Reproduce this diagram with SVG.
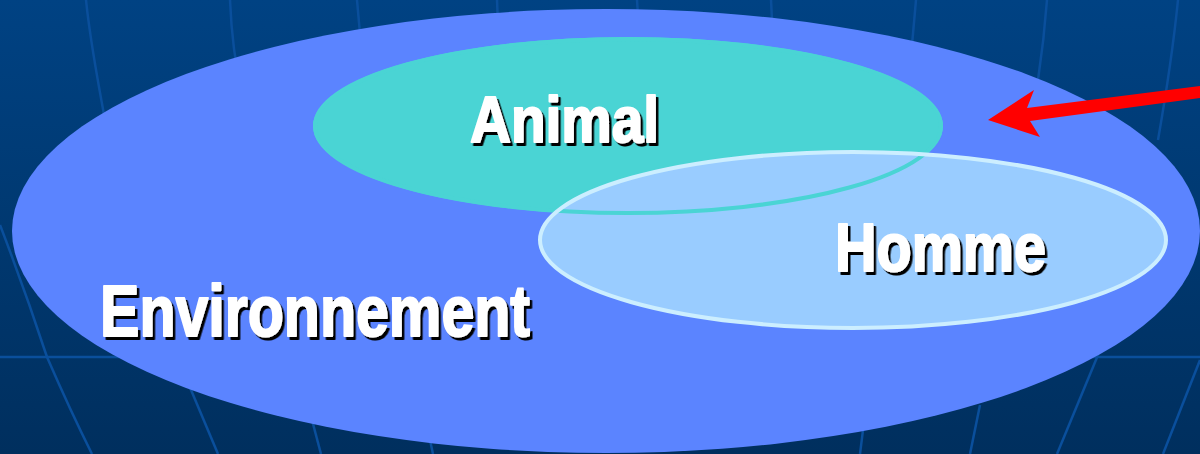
<svg xmlns="http://www.w3.org/2000/svg" width="1200" height="454" viewBox="0 0 1200 454">
  <style>
    .grid { fill: none; stroke: #0a4f9c; stroke-width: 2.5; }
    .label { font-family: "Liberation Sans", "DejaVu Sans", sans-serif; font-weight: bold; fill: #ffffff; stroke: #ffffff; stroke-width: 2; stroke-linejoin: round; filter: url(#shadow); }
  </style>
  <defs>
    <linearGradient id="bg" x1="0" y1="0" x2="0" y2="1">
      <stop offset="0" stop-color="#004283"/>
      <stop offset="1" stop-color="#002f5e"/>
    </linearGradient>
    <filter id="shadow" x="-10%" y="-20%" width="120%" height="150%">
      <feDropShadow dx="2.5" dy="3" stdDeviation="0.4" flood-color="#000000" flood-opacity="1"/>
    </filter>
  </defs>

  <g id="background">
    <rect x="0" y="0" width="1200" height="454" fill="url(#bg)"/>
    <path class="grid" d="M0 357 H1200"/>
    <path class="grid" d="M86 0 Q90 40 105 120"/>
    <path class="grid" d="M230 0 Q232 50 242 95"/>
    <path class="grid" d="M357 0 L361 45"/>
    <path class="grid" d="M497 0 L498 25"/>
    <path class="grid" d="M637 0 L638 15"/>
    <path class="grid" d="M771 0 L772 20"/>
    <path class="grid" d="M916 0 L912 45"/>
    <path class="grid" d="M1047 0 Q1044 40 1038 80"/>
    <path class="grid" d="M1178 0 Q1172 60 1158 140"/>
    <path class="grid" d="M0 225 Q25 290 47 357 Q70 410 92 454"/>
    <path class="grid" d="M170 340 L218 454"/>
    <path class="grid" d="M312 420 L321 454"/>
    <path class="grid" d="M430 440 L433 454"/>
    <path class="grid" d="M863 430 L860 454"/>
    <path class="grid" d="M980 405 L970 454"/>
    <path class="grid" d="M1098 355 L1057 454"/>
    <path class="grid" d="M1200 360 L1163 454"/>
  </g>

  <g id="environnement">
    <ellipse cx="606" cy="231" rx="594" ry="222" fill="#5b84ff"/>
    <text class="label" x="100" y="336" font-size="72" textLength="430" lengthAdjust="spacingAndGlyphs">Environnement</text>
  </g>

  <g id="animal">
    <ellipse cx="628" cy="126" rx="315" ry="89" fill="#4ad4d4"/>
    <text class="label" x="470" y="142" font-size="64" textLength="189" lengthAdjust="spacingAndGlyphs">Animal</text>
  </g>

  <g id="homme">
    <ellipse cx="853" cy="240" rx="313" ry="88" fill="#99ccff"/>
    <ellipse cx="628" cy="126" rx="313" ry="87" fill="none" stroke="#4ad4d4" stroke-width="4"/>
    <ellipse cx="853" cy="240" rx="313" ry="88" fill="none" stroke="#cceeff" stroke-width="4"/>
    <text class="label" x="835" y="271" font-size="68" textLength="211" lengthAdjust="spacingAndGlyphs">Homme</text>
  </g>

  <g id="connectors">
    <polygon points="988,120 1034,90 1027,108 1200,86 1200,98 1030,121 1040,137" fill="#ff0000"/>
  </g>
</svg>
